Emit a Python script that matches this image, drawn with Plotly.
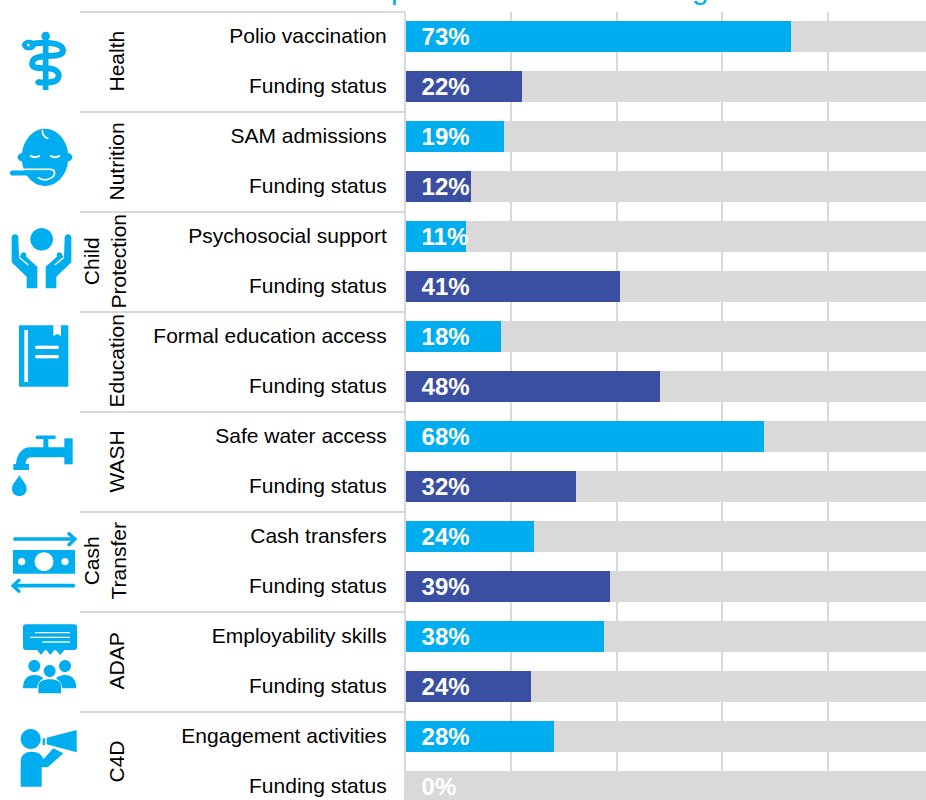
import plotly.graph_objects as go

groups = ["Health", "Nutrition", "Child<br>Protection", "Education", "WASH", "Cash<br>Transfer", "ADAP", "C4D"]
indicators = ["Polio vaccination", "SAM admissions", "Psychosocial support", "Formal education access",
              "Safe water access", "Cash transfers", "Employability skills", "Engagement activities"]
funding_label = "Funding status"
progress_values = [73.1, 18.6, 11.4, 18.1, 67.9, 24.2, 37.6, 28.1]
funding_values = [22.1, 12.3, 40.6, 48.2, 32.2, 38.7, 23.8, 0]
target_value = 100
x_ticks = [0, 20, 40, 60, 80, 100]

CYAN = "#00AEEF"
NAVY = "#3A4EA2"
GREY = "#D9D9D9"
FONT = "Liberation Sans"

labels, values, colours = [], [], []
for name, p, f in zip(indicators, progress_values, funding_values):
    labels += [name, funding_label]
    values += [p, f]
    colours += [CYAN, NAVY]
rows = list(range(len(values)))
label_x = [2.95] * len(values)
label_y = [r + 0.05 for r in rows]

fig = go.Figure()
fig.add_trace(go.Bar(y=rows, x=[target_value] * len(rows), orientation="h", width=0.63,
                     marker=dict(color=GREY, line_width=0), hoverinfo="skip", showlegend=False))
fig.add_trace(go.Bar(y=rows, x=values, orientation="h", width=0.63,
                     marker=dict(color=colours, line_width=0), showlegend=False))
fig.add_trace(go.Scatter(y=label_y, x=label_x, mode="text", text=[f"{round(v)}%" for v in values],
                         textposition="middle right",
                         textfont=dict(family=FONT, size=24, color="white", weight="bold"),
                         hoverinfo="skip", showlegend=False))

# ---- decoration helpers, in the page-pixel axes x2/y2 ----
shapes = []


def add_path(d, fill=CYAN, line=None, width=0):
    shapes.append(dict(type="path", path=d, xref="x2", yref="y2", layer="above",
                       fillcolor=fill if fill else "rgba(0,0,0,0)",
                       line=dict(color=line if line else "rgba(0,0,0,0)", width=width)))


class Icon:
    """Coordinates are written in a 3x local grid starting at (ox, oy)."""

    def __init__(self, ox, oy):
        self.ox, self.oy = ox, oy

    def pt(self, x, y):
        return f"{self.ox + x / 3:.2f},{self.oy + y / 3:.2f}"

    def circle(self, cx, cy, r, color=CYAN):
        k = 0.5523 * r
        self.curve([(cx - r, cy), "C", (cx - r, cy - k), (cx - k, cy - r), (cx, cy - r),
                    "C", (cx + k, cy - r), (cx + r, cy - k), (cx + r, cy),
                    "C", (cx + r, cy + k), (cx + k, cy + r), (cx, cy + r),
                    "C", (cx - k, cy + r), (cx - r, cy + k), (cx - r, cy)], color)

    def ellipse(self, cx, cy, rx, ry, color=CYAN):
        kx, ky = 0.5523 * rx, 0.5523 * ry
        self.curve([(cx - rx, cy), "C", (cx - rx, cy - ky), (cx - kx, cy - ry), (cx, cy - ry),
                    "C", (cx + kx, cy - ry), (cx + rx, cy - ky), (cx + rx, cy),
                    "C", (cx + rx, cy + ky), (cx + kx, cy + ry), (cx, cy + ry),
                    "C", (cx - kx, cy + ry), (cx - rx, cy + ky), (cx - rx, cy)], color)

    def curve(self, items, color=CYAN):
        """Filled path: first item is the start point, then 'C'/'L' followed by points."""
        add_path(self._d(items) + " Z", fill=color)

    def _d(self, items):
        d = "M " + self.pt(*items[0])
        for it in items[1:]:
            d += f" {it} " if isinstance(it, str) else " " + self.pt(*it)
        return d

    def poly(self, pts, color=CYAN):
        add_path("M " + " L ".join(self.pt(*p) for p in pts) + " Z", fill=color)

    def stroke(self, items, w, color=CYAN, caps=True):
        """Open stroked path; w in the local 3x grid."""
        add_path(self._d(items), fill=None, line=color, width=w / 3)
        if caps:
            pts = [i for i in items if not isinstance(i, str)]
            for p in (pts[0], pts[-1]):
                self.circle(p[0], p[1], w / 2, color)


# Health
ic = Icon(5, 25)
ic.circle(122, 33, 13)
ic.stroke([(122, 30), "L", (122, 195)], 17, caps=False)
ic.stroke([(72, 58), "C", (110, 50), (174, 50), (174, 77), "C", (174, 102), (100, 85), (85, 105),
           "C", (72, 130), (95, 130), (122, 130), "C", (157, 130), (164, 145), (160, 158),
           "C", (154, 177), (120, 172), (100, 172)], 18)
ic.ellipse(72, 60, 21, 16)
ic.circle(70, 60, 4, "white")

# Nutrition
ic = Icon(5, 125)
ic.ellipse(120, 97, 70, 86)
ic.circle(50, 97, 12)
ic.circle(190, 97, 12)
ic.stroke([(112, 15), "C", (112, 30), (118, 38), (130, 40)], 5, "white", caps=False)
ic.stroke([(75, 92), "C", (85, 98), (95, 98), (105, 92)], 6, "white", caps=False)
ic.stroke([(135, 92), "C", (145, 98), (155, 98), (165, 92)], 6, "white", caps=False)
ic.stroke([(55, 133), "L", (138, 133), "C", (152, 135), (152, 150), (140, 158), "C", (125, 168), (110, 165), (98, 157)],
          5, "white", caps=False)
ic.stroke([(22, 144), "L", (132, 144)], 15)

# Child protection
ic = Icon(5, 225)
ic.circle(110, 43, 34)
for mirror in (False, True):
    m = (lambda x: 219 - x) if mirror else (lambda x: x)
    ic.poly([(m(20), 38), (m(40), 38), (m(42), 97), (m(52), 85), (m(97), 125), (m(97), 190),
             (m(65), 190), (m(65), 155), (m(20), 112)])
    ic.circle(m(30), 38, 10)
    ic.circle(m(56), 90, 8)
    ic.stroke([(m(42), 97), "L", (m(70), 120)], 4, "white", caps=False)

# Education
ic = Icon(5, 320)
ic.poly([(42, 16), (190, 16), (190, 200), (42, 200)])
ic.poly([(58, 30), (69, 30), (69, 186), (58, 186)], "white")
ic.poly([(145, 16), (168, 16), (168, 48), (157, 42), (145, 48)], "white")
ic.stroke([(95, 82), "L", (157, 82)], 10, "white")
ic.stroke([(95, 110), "L", (157, 110)], 10, "white")

# WASH
ic = Icon(5, 430)
ic.stroke([(97, 22), "L", (147, 22)], 11)
ic.poly([(115, 22), (130, 22), (130, 55), (115, 55)])
ic.poly([(178, 25), (203, 25), (203, 103), (178, 103)])
ic.curve([(180, 52), "L", (75, 52), "C", (50, 52), (35, 75), (33, 102), "L", (25, 102), "L", (25, 120),
          "L", (72, 120), "L", (72, 102), "L", (62, 102), "C", (62, 90), (68, 82), (80, 82), "L", (180, 82)])
ic.curve([(43, 135), "C", (38, 148), (21, 160), (21, 176), "C", (21, 205), (65, 205), (65, 176),
          "C", (65, 160), (48, 148), (43, 135)])

# Cash transfer
ic = Icon(5, 525)
ic.stroke([(30, 42), "L", (205, 42)], 11)
ic.stroke([(192, 26), "L", (210, 42), "L", (192, 59)], 10)
ic.poly([(24, 75), (210, 75), (210, 146), (24, 146)])
ic.circle(117, 110, 28, "white")
ic.circle(50, 110, 11, "white")
ic.circle(180, 110, 11, "white")
ic.stroke([(30, 182), "L", (205, 182)], 11)
ic.stroke([(42, 166), "L", (24, 182), "L", (42, 199)], 10)

# ADAP
ic = Icon(5, 620)
ic.curve([(62, 13), "L", (208, 13), "C", (213, 13), (216, 16), (216, 21), "L", (216, 82),
          "C", (216, 87), (213, 90), (208, 90), "L", (62, 90), "C", (57, 90), (54, 87), (54, 82),
          "L", (54, 21), "C", (54, 16), (57, 13), (62, 13)])
for a, b, c in [(96, 108, 120), (124, 136, 148), (152, 166, 178)]:
    ic.poly([(a, 90), (c, 90), (b, 105)])
ic.stroke([(90, 38), "L", (195, 38)], 4, "white", caps=False)
ic.stroke([(75, 52), "L", (195, 52)], 4, "white", caps=False)
ic.stroke([(112, 66), "L", (195, 66)], 4, "white", caps=False)
ic.circle(88, 138, 18)
ic.circle(180, 138, 18)
ic.circle(134, 153, 18)
ic.curve([(54, 205), "C", (54, 175), (70, 165), (88, 165), "C", (100, 165), (110, 170), (115, 175),
          "C", (105, 182), (98, 190), (96, 205)])
ic.curve([(214, 205), "C", (214, 175), (198, 165), (180, 165), "C", (168, 165), (158, 170), (153, 175),
          "C", (163, 182), (170, 190), (172, 205)])
ic.curve([(100, 220), "L", (100, 200), "C", (100, 185), (115, 178), (134, 178), "C", (155, 178), (168, 185), (168, 200),
          "L", (168, 220)])

# C4D
ic = Icon(5, 720)
ic.circle(77, 57, 30)
ic.curve([(47, 200), "L", (47, 125), "C", (47, 105), (60, 95), (80, 95), "C", (100, 95), (112, 105), (115, 118),
          "L", (145, 85), "L", (175, 100), "L", (128, 142), "L", (110, 142), "L", (110, 200)])
ic.poly([(125, 53), (215, 30), (215, 97), (125, 73)])
ic.poly([(113, 55), (120, 55), (120, 75), (113, 75)])

# Row separators
for k in range(len(groups)):
    y = 12 + 100 * k
    add_path(f"M 80,{y} L 405,{y}", fill=None, line=GREY, width=2)

annotations = [
    dict(text=g, x=116 if "<br>" not in g else 104, xref="x2", y=2 * k + 0.5, yref="y", showarrow=False,
         textangle=-90, font=dict(family=FONT, size=21, color="black"), align="center")
    for k, g in enumerate(groups)
]
# Only the descenders of the cropped heading are visible at the page top
for ch, px in [("p", 389), ("g", 690)]:
    annotations.append(dict(text=ch, x=px, xref="x2", y=7, yref="y2", xanchor="left", yanchor="bottom",
                            showarrow=False, font=dict(family=FONT, size=30, color=CYAN)))

fig.update_layout(
    width=926, height=800, margin=dict(l=0, r=0, t=0, b=0, pad=0, autoexpand=False),
    paper_bgcolor="white", plot_bgcolor="rgba(0,0,0,0)", barmode="overlay", bargap=0,
    xaxis=dict(domain=[406 / 926, 1], range=[0, 98.67], tickvals=x_ticks, showticklabels=False,
               showgrid=True, gridcolor=GREY, gridwidth=2, zeroline=False, ticks="", anchor="y"),
    yaxis=dict(domain=[0, 788 / 800], range=[15.27, -0.49], tickvals=rows, ticktext=labels,
               tickfont=dict(family=FONT, size=21, color="black"), ticks="outside", ticklen=13,
               ticklabelshift=1,
               tickcolor="rgba(0,0,0,0)", showgrid=False, zeroline=False,
               showline=True, linecolor=GREY, linewidth=2, anchor="x"),
    xaxis2=dict(domain=[0, 1], range=[0, 926], visible=False, anchor="y2", fixedrange=True),
    yaxis2=dict(domain=[0, 1], range=[800, 0], visible=False, anchor="x2", fixedrange=True),
    shapes=shapes, annotations=annotations, showlegend=False,
)

fig.write_html("out.html", config={"displayModeBar": False},
               post_script="document.body.style.margin='0';document.body.style.overflow='hidden';")
